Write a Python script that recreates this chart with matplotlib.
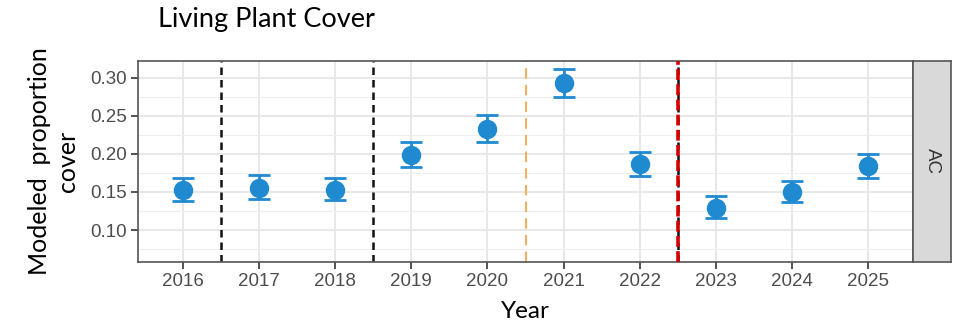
import matplotlib
matplotlib.use("Agg")
import matplotlib.pyplot as plt
from matplotlib.ticker import MultipleLocator

plt.rcParams["font.family"] = ["Liberation Sans", "DejaVu Sans"]

# Modeled proportion cover by year with confidence limits
years = [2016, 2017, 2018, 2019, 2020, 2021, 2022, 2023, 2024, 2025]
estimate = [0.153, 0.155, 0.153, 0.199, 0.233, 0.293, 0.187, 0.129, 0.150, 0.184]
lower = [0.138, 0.141, 0.139, 0.183, 0.216, 0.275, 0.171, 0.116, 0.137, 0.168]
upper = [0.168, 0.172, 0.168, 0.216, 0.251, 0.312, 0.203, 0.145, 0.164, 0.200]

# Management breaks between years
black_breaks = [2016.5, 2018.5, 2022.5]
orange_breaks = [2020.5]
red_breaks = [2022.5]

panel_label = "AC"
label_font = ["Lato", "DejaVu Sans"]

fig = plt.figure(figsize=(9.58, 3.21), dpi=100)
ax = fig.add_axes([138 / 958, 1 - 262 / 321, (913 - 138) / 958, (262 - 61) / 321])
strip = fig.add_axes([913 / 958, 1 - 262 / 321, (951 - 913) / 958, (262 - 61) / 321])

idx = list(range(len(years)))
ax.set_xlim(-0.59, len(years) - 1 + 0.59)
ax.set_ylim(0.058, 0.322)

ax.yaxis.set_major_locator(MultipleLocator(0.05))
ax.yaxis.set_minor_locator(MultipleLocator(0.025))
ax.set_xticks(idx)
ax.set_xticklabels([str(y) for y in years])
ax.grid(which="major", color="#e6e6e6", linewidth=1.3)
ax.grid(which="minor", axis="y", color="#eeeeee", linewidth=0.8)
ax.set_axisbelow(True)

for sp in ax.spines.values():
    sp.set_color("#555555")
    sp.set_linewidth(1.2)

ax.tick_params(axis="both", which="major", colors="#444444", labelcolor="#4d4d4d",
               labelsize=13.5, length=5, width=1.3, pad=3)
ax.tick_params(axis="y", which="minor", length=0)
ax.yaxis.set_major_formatter(matplotlib.ticker.FormatStrFormatter("%.2f"))

def year_pos(y):
    return y - years[0]

for b in black_breaks:
    ax.axvline(year_pos(b), color="#111111", linestyle=(0, (3, 2)), linewidth=1.8, zorder=2)
for b in orange_breaks:
    ax.axvline(year_pos(b), color="#f0b060", linestyle=(0, (5, 3)), linewidth=1.5, zorder=2)
for b in red_breaks:
    ax.axvline(year_pos(b), color="#d40000", linestyle=(0, (3, 1.2)), linewidth=2.6, zorder=3)

yerr = [[e - l for e, l in zip(estimate, lower)], [u - e for e, u in zip(estimate, upper)]]
ax.errorbar(idx, estimate, yerr=yerr, fmt="o", color="#1f8ad0", markersize=13,
            elinewidth=2.0, capsize=8, capthick=2.0, zorder=4)

ax.set_xlabel("Year", fontsize=17.5, color="black", labelpad=8, family=label_font)
ax.set_ylabel("Modeled  proportion\ncover", fontsize=18, color="black", labelpad=8,
              linespacing=1.25, family=label_font)

fig.text(158 / 958, 1 - 20 / 321, "Living Plant Cover", fontsize=19.5, color="black",
         ha="left", va="center", family=label_font)

strip.set_facecolor("#d9d9d9")
strip.set_xticks([])
strip.set_yticks([])
for sp in strip.spines.values():
    sp.set_color("#555555")
    sp.set_linewidth(1.2)
strip.text(0.5, 0.5, panel_label, rotation=-90, ha="center", va="center",
           fontsize=13.5, color="#333333", transform=strip.transAxes)

fig.savefig("out.png", dpi=100)
